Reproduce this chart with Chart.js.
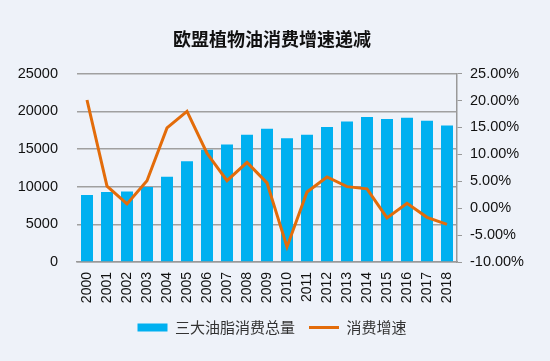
<!DOCTYPE html>
<html>
<head>
<meta charset="utf-8">
<script src="https://cdn.jsdelivr.net/npm/chart.js@4"></script>
<style>
  html, body { margin: 0; padding: 0; background: #eef2f9; }
  #wrap { width: 550px; height: 361px; position: relative; }
</style>
</head>
<body>
<div id="wrap"><canvas id="mixChart"></canvas></div>
<script>
var years = ["2000", "2001", "2002", "2003", "2004", "2005", "2006", "2007", "2008", "2009",
  "2010", "2011", "2012", "2013", "2014", "2015", "2016", "2017", "2018"];
var totalUse = [8880, 9280, 9370, 9950, 11320, 13370, 14880, 15590, 16870, 17670,
  16430, 16870, 17900, 18650, 19230, 18960, 19140, 18740, 18120];
var growthRate = [20.1, 4.1, 0.8, 5.1, 14.9, 18.0, 10.2, 5.1, 8.5, 4.7,
  -7.2, 3.0, 5.8, 4.0, 3.6, -1.8, 0.9, -1.7, -3.0];

var ctx = document.getElementById("mixChart").getContext('2d');
var myChart = new Chart(ctx, {
    type: 'bar',
    data: {
        labels: years,
        datasets: [
            {
                type: 'line',
                label: "消费增速",
                data: growthRate,
                yAxisID: 'y1',
                borderColor: "#e36c0a",
                backgroundColor: "#e36c0a",
                borderWidth: 3,
                pointRadius: 0,
                pointStyle: 'line',
                tension: 0,
                order: 0
            },
            {
                label: "三大油脂消费总量",
                data: totalUse,
                yAxisID: 'y',
                backgroundColor: "#00b0f0",
                borderWidth: 0,
                pointStyle: 'rect',
                barPercentage: 0.6,
                categoryPercentage: 1.0,
                order: 1
            }
        ]
    },
    options: {
        responsive: true,
        maintainAspectRatio: false,
        animation: false,
        layout: { padding: { left: 17, right: 23, top: 8, bottom: 16 } },
        plugins: {
            title: {
                display: true,
                text: "欧盟植物油消费增速递减",
                color: "#111",
                font: { family: "'Noto Sans CJK SC'", size: 18, weight: 'bold' },
                padding: { top: 20, bottom: 24 }
            },
            legend: {
                position: 'bottom',
                reverse: true,
                labels: {
                    color: "#333",
                    font: { family: "'Noto Sans CJK SC'", size: 15 },
                    usePointStyle: true,
                    pointStyleWidth: 30,
                    boxHeight: 8,
                    padding: 14
                }
            },
            tooltip: { enabled: false }
        },
        scales: {
            x: {
                grid: { display: false, drawTicks: false },
                border: { color: "#999", width: 1.5 },
                ticks: {
                    color: "#111",
                    autoSkip: false,
                    maxRotation: 90,
                    minRotation: 90,
                    padding: 10,
                    font: { family: "'Liberation Sans'", size: 14 }
                },
                afterFit: function (scale) { scale.height = 44; }
            },
            y: {
                position: 'left',
                min: 0,
                max: 25000,
                ticks: {
                    stepSize: 5000,
                    color: "#111",
                    padding: 19,
                    font: { family: "'Liberation Sans'", size: 14.5 },
                    callback: function (v) { return String(v); }
                },
                grid: { color: "#a0a0a0", lineWidth: 1.5, drawTicks: false },
                border: { display: false },
                afterFit: function (scale) { scale.width = 60; }
            },
            y1: {
                position: 'right',
                min: -10,
                max: 25,
                ticks: {
                    stepSize: 5,
                    color: "#111",
                    padding: 8,
                    font: { family: "'Liberation Sans'", size: 14.5 },
                    callback: function (v) { return v.toFixed(2) + "%"; }
                },
                grid: { drawOnChartArea: false, color: "#999", tickLength: 5 },
                border: { color: "#999", width: 1.5 },
                afterFit: function (scale) { scale.width = 70; }
            }
        }
    }
});
</script>
</body>
</html>
